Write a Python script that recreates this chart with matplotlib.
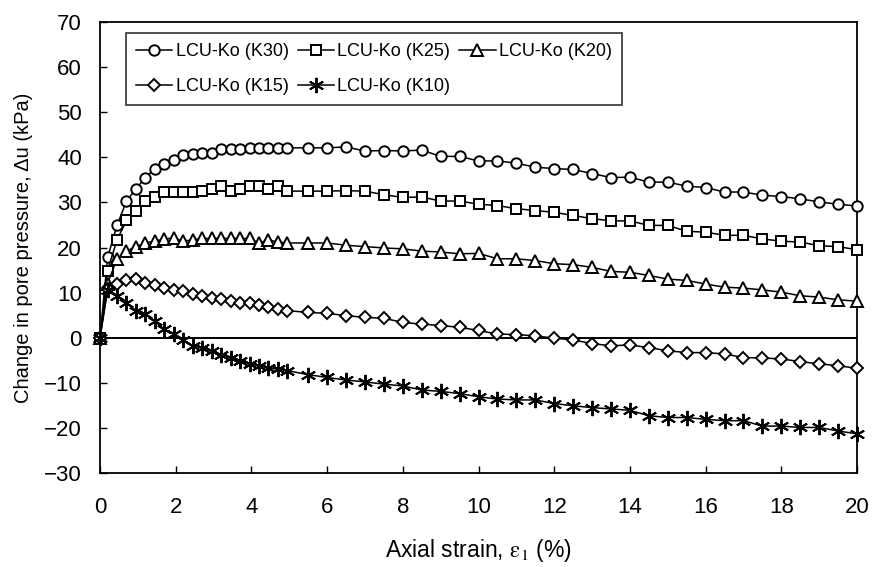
import matplotlib
matplotlib.use('Agg')
import matplotlib.pyplot as plt

plt.rcParams['font.family'] = ['Liberation Sans', 'DejaVu Sans']
plt.rcParams['mathtext.fontset'] = 'stix'

# axial strain (%) at each reading
strain = [0, 0.2, 0.45, 0.7, 0.95, 1.2, 1.45, 1.7, 1.95, 2.2, 2.45, 2.7, 2.95,
          3.2, 3.45, 3.7, 3.95, 4.2, 4.45, 4.7, 4.95, 5.5, 6.0, 6.5, 7.0,
          7.5, 8.0, 8.5, 9.0, 9.5, 10.0, 10.5, 11.0, 11.5, 12.0, 12.5, 13.0,
          13.5, 14.0, 14.5, 15.0, 15.5, 16.0, 16.5, 17.0, 17.5, 18.0, 18.5,
          19.0, 19.5, 20.0]

# change in pore pressure (kPa)
k30 = [0, 17.8, 24.9, 30.3, 33.0, 35.5, 37.5, 38.6, 39.3, 40.4, 40.8, 41.0, 41.0,
       41.8, 41.8, 41.8, 42.1, 42.1, 42.1, 42.1, 42.1, 42.1, 42.1, 42.3, 41.4,
       41.5, 41.4, 41.6, 40.2, 40.2, 39.2, 39.2, 38.7, 37.8, 37.5, 37.3, 36.4,
       35.5, 35.6, 34.5, 34.5, 33.6, 33.3, 32.3, 32.3, 31.6, 31.3, 30.8,
       30.1, 29.6, 29.2]
k25 = [0, 14.9, 21.7, 26.0, 28.1, 30.4, 31.2, 32.3, 32.4, 32.4, 32.4, 32.6, 33.0,
       33.6, 32.6, 33.0, 33.6, 33.6, 33.0, 33.6, 32.5, 32.5, 32.5, 32.6, 32.5,
       31.7, 31.1, 31.2, 30.3, 30.3, 29.6, 29.3, 28.6, 28.2, 27.8, 27.1, 26.4,
       25.9, 25.9, 24.9, 24.9, 23.6, 23.4, 22.7, 22.7, 21.9, 21.4, 21.2,
       20.4, 20.2, 19.5]
k20 = [0, 12.0, 17.5, 19.2, 20.2, 21.0, 21.4, 21.9, 22.1, 21.4, 21.7, 22.0, 22.0,
       22.0, 22.0, 22.0, 22.0, 21.0, 21.7, 21.2, 21.0, 21.0, 21.0, 20.5, 20.2,
       19.9, 19.7, 19.2, 19.0, 18.6, 18.7, 17.5, 17.5, 17.1, 16.4, 16.2, 15.6,
       14.7, 14.5, 13.8, 13.0, 12.7, 11.9, 11.2, 11.0, 10.6, 10.1, 9.3,
       9.0, 8.4, 8.1]
k15 = [0, 10.8, 11.9, 12.8, 13.0, 12.2, 11.6, 11.0, 10.6, 10.3, 9.7, 9.2, 8.8,
       8.6, 8.2, 7.8, 7.7, 7.3, 6.9, 6.4, 6.0, 5.6, 5.4, 4.9, 4.5,
       4.3, 3.4, 3.0, 2.7, 2.3, 1.6, 0.8, 0.7, 0.4, -0.1, -0.5, -1.3,
       -1.8, -1.6, -2.2, -2.9, -3.3, -3.3, -3.6, -4.4, -4.5, -4.7, -5.3,
       -5.8, -6.2, -6.8]
k10 = [0, 10.6, 9.3, 7.8, 6.0, 5.3, 3.6, 1.9, 0.8, -0.5, -1.8, -2.2, -2.9,
       -3.8, -4.4, -5.1, -5.8, -6.2, -6.7, -7.0, -7.3, -8.2, -8.8, -9.4, -9.8,
       -10.3, -10.7, -11.6, -11.9, -12.4, -13.1, -13.6, -13.8, -13.8, -14.6,
       -15.1, -15.5, -15.8, -16.1, -17.3, -17.7, -17.7, -18.1, -18.4, -18.4,
       -19.6, -19.6, -19.9, -19.9, -20.7, -21.3]

labels = ['LCU-Ko (K30)', 'LCU-Ko (K25)', 'LCU-Ko (K20)',
          'LCU-Ko (K15)', 'LCU-Ko (K10)']
series = [k30, k25, k20, k15, k10]
markers = ['o', 's', '^', 'D', (6, 2, 0)]
msizes = [7.5, 7, 8.5, 6.5, 11]

fig = plt.figure(figsize=(8.74, 5.67), dpi=100)
ax = fig.add_axes([100 / 874, 1 - 473 / 567, 757 / 874, 451 / 567])

ax.axhline(0, color='black', lw=1.4, zorder=1)

handles = []
for y, lab, m, ms in zip(series, labels, markers, msizes):
    h, = ax.plot(strain, y, color='black', lw=1.1, marker=m, ms=ms,
                 mfc='white', mec='black', mew=1.4, label=lab, clip_on=False,
                 zorder=3)
    handles.append(h)

ax.set_xlim(0, 20)
ax.set_ylim(-30, 70)
ax.set_xticks(range(0, 21, 2))
ax.set_yticks(range(-30, 71, 10))
ax.tick_params(direction='in', length=5, width=1, labelsize=16)
ax.tick_params(axis='x', pad=17)
ax.tick_params(axis='y', pad=13)
for s in ax.spines.values():
    s.set_linewidth(1.3)

ax.set_xlabel(r'Axial strain, $\mathrm{\epsilon_1}$ (%)', fontsize=16.5,
              labelpad=14)
ax.set_ylabel('Change in pore pressure, \u0394u (kPa)', fontsize=14.5,
              labelpad=8)

# legend fills column-wise, so reorder to get K30 K25 K20 / K15 K10
order = [0, 3, 1, 4, 2]
leg = ax.legend([handles[i] for i in order], [labels[i] for i in order],
                ncol=3, loc='upper left', bbox_to_anchor=(0.0343, 0.9756),
                borderaxespad=0, fontsize=13, frameon=True, fancybox=False,
                edgecolor='black', handlelength=2.0, handletextpad=0.2,
                columnspacing=0.5, labelspacing=1.0, borderpad=0.55)
leg.get_frame().set_linewidth(1.2)

fig.savefig('out.png', dpi=100)
